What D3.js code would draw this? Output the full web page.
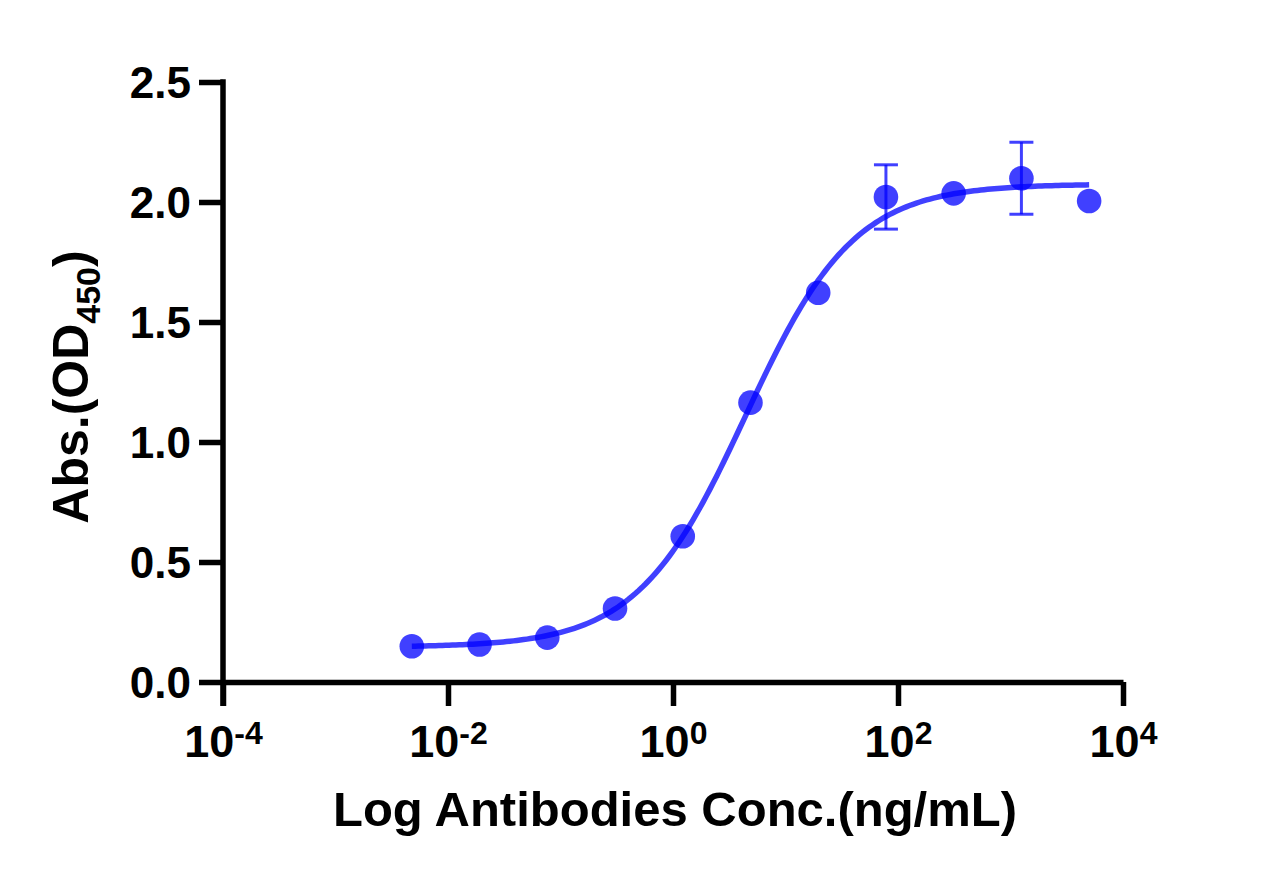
<!DOCTYPE html>
<html>
<head>
<meta charset="utf-8">
<script src="https://cdn.jsdelivr.net/npm/d3@7/dist/d3.min.js"></script>
<style>
  body { margin: 0; background: #fff; }
  svg { display: block; overflow: visible; }
  text { font-family: "Liberation Sans", Arial, sans-serif; font-weight: bold; fill: #000; }
</style>
</head>
<body>
<svg></svg>
<script>
// concentrations (ng/mL), 4-fold dilutions
const conc = [5000, 1250, 312.5, 78.125, 19.53, 4.883, 1.221, 0.3052, 0.07629, 0.01907, 0.004768];
const od = [2.004, 2.099, 2.036, 2.021, 1.622, 1.164, 0.607, 0.306, 0.185, 0.156, 0.149];
const sd = [0, 0.15, 0, 0.134, 0, 0, 0, 0, 0, 0, 0];

const xTicks = [1e-4, 1e-2, 1, 1e2, 1e4];
const xTickExp = ['-4', '-2', '0', '2', '4'];
const yTicks = [0, 0.5, 1.0, 1.5, 2.0, 2.5];

// 4PL fit parameters
const fitBottom = 0.145;
const fitTop = 2.075;
const fitLogEC50 = 0.646;
const fitHill = 0.9;

const width = 1267;
const height = 887;
const margin = { top: 82, right: 144, bottom: 205, left: 223 };
const innerWidth = width - margin.left - margin.right;
const innerHeight = height - margin.top - margin.bottom;

const blue = '#0000ff';

const svg = d3.select('svg')
	.attr('width', width)
	.attr('height', height);

const xScale = d3.scaleLog()
	.domain([1e-4, 1e4])
	.range([0, innerWidth]);

const yScale = d3.scaleLinear()
	.domain([0, 2.5])
	.range([innerHeight, 0]);

const g = svg.append('g')
	.attr('transform', `translate(${margin.left},${margin.top})`);

// axes
const xAxis = d3.axisBottom(xScale)
	.tickValues(xTicks)
	.tickSize(24)
	.tickSizeOuter(0);

const yAxis = d3.axisLeft(yScale)
	.tickValues(yTicks)
	.tickSize(24)
	.tickSizeOuter(0)
	.tickPadding(8)
	.tickFormat(d3.format('.1f'));

const xAxisGroup = g.append('g')
	.attr('transform', `translate(0,${innerHeight})`)
	.call(xAxis);

xAxisGroup.selectAll('.tick text').remove();

const yAxisGroup = g.append('g')
	.call(yAxis);

[xAxisGroup, yAxisGroup].forEach(ax => {
	ax.selectAll('.domain').attr('stroke', '#000').attr('stroke-width', 5.5);
	ax.selectAll('.tick line').attr('stroke', '#000').attr('stroke-width', 5.5);
});

// y axis line continues down with the first x tick
yAxisGroup.select('.domain')
	.attr('d', `M0,${yScale(2.5) - 2.75}V${innerHeight + 24}`);

yAxisGroup.selectAll('.tick text')
	.attr('font-size', 44)
	.attr('font-family', '"Liberation Sans", Arial, sans-serif')
	.attr('font-weight', 'bold')
	.attr('fill', '#000')
	.attr('dy', '0.36em');

// x tick labels with superscript exponents
const xLabel = xAxisGroup.selectAll('.tick')
	.append('text')
	.attr('y', 75)
	.attr('text-anchor', 'middle')
	.attr('font-size', 45);

xLabel.append('tspan').text('10');
xLabel.append('tspan')
	.attr('font-size', 32)
	.attr('dy', -13)
	.text((d, i) => xTickExp[i]);

// axis titles
g.append('text')
	.attr('x', innerWidth / 2 + 2)
	.attr('y', innerHeight + 144)
	.attr('text-anchor', 'middle')
	.attr('font-size', 49)
	.text('Log Antibodies Conc.(ng/mL)');

const yTitle = g.append('text')
	.attr('transform', `translate(${88 - margin.left},${innerHeight / 2 + 5}) rotate(-90)`)
	.attr('text-anchor', 'middle')
	.attr('font-size', 50);
yTitle.append('tspan').text('Abs.(OD');
yTitle.append('tspan').attr('font-size', 34).attr('dy', 12).text('450');
yTitle.append('tspan').attr('dy', -12).text(')');

// fitted curve
const fit = x => fitBottom + (fitTop - fitBottom) / (1 + Math.pow(10, (fitLogEC50 - Math.log10(x)) * fitHill));
const [cMin, cMax] = d3.extent(conc);
const curveX = d3.range(0, 201).map(i => Math.pow(10, Math.log10(cMin) + i / 200 * (Math.log10(cMax) - Math.log10(cMin))));

const lineGenerator = d3.line()
	.x(d => xScale(d))
	.y(d => yScale(fit(d)));

g.append('path')
	.attr('d', lineGenerator(curveX))
	.attr('fill', 'none')
	.attr('stroke', blue)
	.attr('stroke-opacity', 0.75)
	.attr('stroke-width', 5.5);

// error bars
const data = conc.map((c, i) => ({ c, y: od[i], sd: sd[i] }));
const eb = g.append('g')
	.attr('stroke', blue)
	.attr('stroke-opacity', 0.75)
	.attr('stroke-width', 3)
	.selectAll('g')
	.data(data.filter(d => d.sd > 0))
	.join('g');

eb.append('line')
	.attr('x1', d => xScale(d.c)).attr('x2', d => xScale(d.c))
	.attr('y1', d => yScale(d.y + d.sd)).attr('y2', d => yScale(d.y - d.sd));
eb.append('line')
	.attr('x1', d => xScale(d.c) - 12).attr('x2', d => xScale(d.c) + 12)
	.attr('y1', d => yScale(d.y + d.sd)).attr('y2', d => yScale(d.y + d.sd));
eb.append('line')
	.attr('x1', d => xScale(d.c) - 12).attr('x2', d => xScale(d.c) + 12)
	.attr('y1', d => yScale(d.y - d.sd)).attr('y2', d => yScale(d.y - d.sd));

// points
g.append('g')
	.selectAll('circle')
	.data(data)
	.join('circle')
	.attr('cx', d => xScale(d.c))
	.attr('cy', d => yScale(d.y))
	.attr('r', 12.3)
	.attr('fill', blue)
	.attr('fill-opacity', 0.75);
</script>
</body>
</html>
